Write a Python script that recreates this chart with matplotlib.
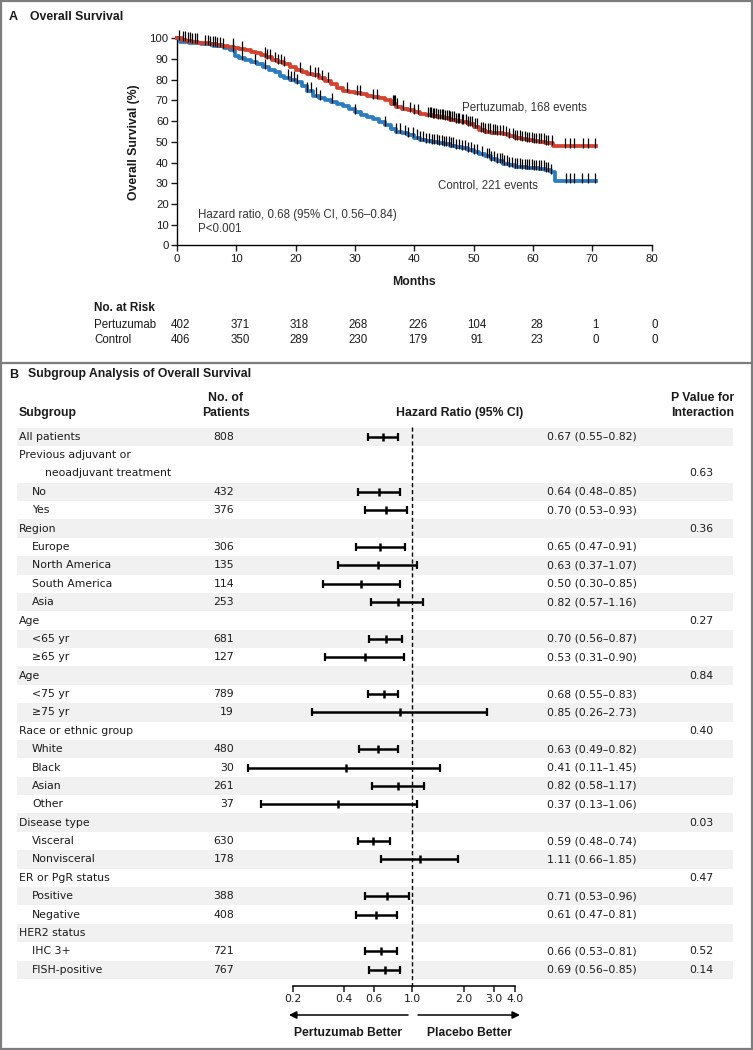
import numpy as np
import matplotlib
matplotlib.use("Agg")
import matplotlib.pyplot as plt
from matplotlib import transforms
from matplotlib.patches import Rectangle
from matplotlib.ticker import NullLocator

# ---------------- Panel A data ----------------
month_ticks = [0, 10, 20, 30, 40, 50, 60, 70, 80]
surv_ticks = [0, 10, 20, 30, 40, 50, 60, 70, 80, 90, 100]

pert_t = [0, 0.8, 1.6, 2.6, 3.6, 4.6, 5.6, 6.6, 7.6, 8.6, 9.6, 10.4, 11.4, 12.4, 13.4, 14.2,
          15.0, 16, 17, 18, 19, 20, 21, 22, 23, 24, 25, 26, 27, 28, 29, 30, 31, 32, 33, 34, 35,
          36, 37, 38, 39, 40, 41, 42, 43, 44, 45, 46, 47, 48, 49, 50, 51, 52, 53, 54, 55, 56,
          57, 58, 59, 60, 61, 62, 63.4, 70.6]
pert_s = [100, 99.4, 98.9, 98.4, 98.0, 97.6, 97.2, 96.8, 96.4, 96.0, 95.5, 94.9, 94.3, 93.6,
          92.8, 92.0, 91.0, 89.6, 88.4, 87.4, 86.2, 84.8, 83.6, 83.0, 82.2, 80.8, 79.6, 78.0,
          76.0, 74.8, 74.2, 73.6, 72.9, 72.2, 71.6, 71.0, 70.0, 68.4, 67.0, 66.0, 65.2, 64.2,
          63.5, 62.9, 62.3, 61.8, 61.3, 60.7, 60.1, 59.4, 58.6, 57.4, 55.6, 54.9, 54.5, 54.1,
          53.6, 52.6, 51.8, 51.3, 50.9, 50.5, 50.1, 49.5, 48.0, 48.0]

ctrl_t = [0, 0.5, 2.0, 4.0, 6.0, 8.0, 9.0, 9.8, 10.5, 11.5, 12.5, 13.5, 14.5, 15.5, 16.5, 17.4,
          18, 19, 20, 21, 22, 23, 24, 25, 26, 27, 28, 29, 30, 31, 32, 33, 34, 35, 36, 37, 38,
          39, 40, 41, 42, 43, 44, 45, 46, 47, 48, 49, 50, 51, 52, 53, 54, 55, 56, 57, 58, 59,
          60, 61, 62, 63, 63.7, 70.6]
ctrl_s = [100, 98.5, 98.0, 97.3, 96.4, 95.4, 94.2, 91.6, 90.4, 89.6, 88.6, 87.4, 86.1, 84.7,
          83.6, 81.8, 81.0, 80.1, 78.9, 77.2, 74.8, 72.3, 71.0, 70.3, 69.5, 68.4, 67.2, 66.0,
          64.4, 63.1, 62.0, 61.0, 59.7, 58.3, 56.2, 54.9, 54.1, 53.3, 52.1, 51.1, 50.4, 49.8,
          49.3, 48.8, 48.2, 47.6, 46.9, 46.0, 45.0, 43.9, 43.0, 41.7, 40.6, 39.5, 38.6, 38.0,
          37.8, 37.5, 37.3, 37.0, 36.4, 35.5, 31.0, 31.0]

pert_cens = [0.4, 1.0, 1.4, 1.8, 2.2, 2.6, 3.0, 3.3, 4.8, 5.2, 5.6, 6.0, 6.4, 6.8, 7.2, 7.7,
             9.5, 11.0, 14.8, 15.2, 15.6, 16.5, 17.0, 17.5, 18.0, 20.7, 22.4, 23.2, 23.8, 24.5,
             25.5, 28.7, 30.3, 30.9, 33.0, 33.7, 36.4, 36.6, 36.8, 37.1, 38.1, 39.3, 40.0, 40.6,
             42.3, 42.6, 42.9, 43.1, 43.4, 43.7, 44.0, 44.3, 44.6, 44.9, 45.2, 45.5, 45.8, 46.1,
             46.4, 46.7, 47.0, 47.3, 47.6, 48.0, 48.3, 48.7, 49.0, 49.4, 49.8, 50.2, 50.6, 51.2,
             51.6, 52.0, 52.4, 52.8, 53.2, 53.6, 54.0, 54.4, 54.9, 55.4, 56.0, 56.6, 57.0, 57.4,
             57.8, 58.2, 58.6, 59.0, 59.4, 59.8, 60.2, 60.6, 61.0, 61.4, 61.8, 62.2, 62.6, 63.3,
             65.5, 66.2, 67.0, 68.5, 69.3, 70.5]
ctrl_cens = [9.5, 11.0, 13.2, 14.8, 18.7, 19.2, 19.7, 20.2, 22.0, 22.6, 23.4, 24.1, 26.1, 30.0,
             35.0, 37.0, 37.6, 38.4, 39.0, 39.8, 40.4, 41.0, 41.5, 42.0, 42.5, 43.0, 43.4, 43.8,
             44.2, 44.6, 45.0, 45.4, 45.8, 46.2, 46.6, 47.0, 47.5, 48.0, 48.5, 49.0, 49.5, 50.0,
             50.5, 51.5, 52.2, 52.6, 53.0, 53.5, 54.0, 54.4, 54.8, 55.2, 55.6, 56.0, 56.5, 57.0,
             57.4, 57.8, 58.2, 58.6, 59.0, 59.4, 59.8, 60.2, 60.6, 61.0, 61.4, 61.8, 62.2, 62.6,
             63.0, 65.6, 66.3, 67.0, 68.2, 69.3, 70.5]

risk_months = [0, 10, 20, 30, 40, 50, 60, 70, 80]
risk_pert = [402, 371, 318, 268, 226, 104, 28, 1, 0]
risk_ctrl = [406, 350, 289, 230, 179, 91, 23, 0, 0]

# ---------------- Panel B data ----------------
sub_labels = ["All patients", "Previous adjuvant or", "neoadjuvant treatment", "No", "Yes",
              "Region", "Europe", "North America", "South America", "Asia",
              "Age", "<65 yr", "\u226565 yr", "Age", "<75 yr", "\u226575 yr",
              "Race or ethnic group", "White", "Black", "Asian", "Other",
              "Disease type", "Visceral", "Nonvisceral", "ER or PgR status", "Positive",
              "Negative", "HER2 status", "IHC 3+", "FISH-positive"]
sub_indent = [0, 0, 2, 1, 1, 0, 1, 1, 1, 1, 0, 1, 1, 0, 1, 1, 0, 1, 1, 1, 1,
              0, 1, 1, 0, 1, 1, 0, 1, 1]
sub_n = ["808", "", "", "432", "376", "", "306", "135", "114", "253", "", "681", "127", "",
         "789", "19", "", "480", "30", "261", "37", "", "630", "178", "", "388", "408", "",
         "721", "767"]
nan = np.nan
sub_hr = [0.67, nan, nan, 0.64, 0.70, nan, 0.65, 0.63, 0.50, 0.82, nan, 0.70, 0.53, nan,
          0.68, 0.85, nan, 0.63, 0.41, 0.82, 0.37, nan, 0.59, 1.11, nan, 0.71, 0.61, nan,
          0.66, 0.69]
sub_lo = [0.55, nan, nan, 0.48, 0.53, nan, 0.47, 0.37, 0.30, 0.57, nan, 0.56, 0.31, nan,
          0.55, 0.26, nan, 0.49, 0.11, 0.58, 0.13, nan, 0.48, 0.66, nan, 0.53, 0.47, nan,
          0.53, 0.56]
sub_hi = [0.82, nan, nan, 0.85, 0.93, nan, 0.91, 1.07, 0.85, 1.16, nan, 0.87, 0.90, nan,
          0.83, 2.73, nan, 0.82, 1.45, 1.17, 1.06, nan, 0.74, 1.85, nan, 0.96, 0.81, nan,
          0.81, 0.85]
sub_p = ["", "", "0.63", "", "", "0.36", "", "", "", "", "0.27", "", "", "0.84", "", "",
         "0.40", "", "", "", "", "0.03", "", "", "0.47", "", "", "", "0.52", "0.14"]
hr_ticks = [0.2, 0.4, 0.6, 1.0, 2.0, 3.0, 4.0]

# ---------------- Figure / layout ----------------
W, H = 753, 1050
fig = plt.figure(figsize=(W / 100, H / 100), dpi=100)
FA = ["Liberation Sans", "DejaVu Sans"]
FB = ["DejaVu Sans"]
TXT = "#1a1a1a"


def px_axes(x0, y0, x1, y1):
    return fig.add_axes([x0 / W, 1 - y1 / H, (x1 - x0) / W, (y1 - y0) / H])


bg = px_axes(0, 0, W, H)
bg.set_xlim(0, W)
bg.set_ylim(H, 0)
bg.axis("off")
bg.add_patch(Rectangle((1, 1), W - 2, H - 2, fill=False, ec="#7d7d7d", lw=1.6))
bg.plot([0, W], [362.5, 362.5], color="#7d7d7d", lw=1.6)

bg.text(9, 17, "A", fontsize=9, fontweight="bold", family=FA, va="center", color=TXT)
bg.text(30, 17, "Overall Survival", fontsize=8.8, fontweight="bold", family=FA, va="center", color=TXT)
bg.text(9, 374.5, "B", fontsize=9, fontweight="bold", family=FA, va="center", color=TXT)
bg.text(28, 374.5, "Subgroup Analysis of Overall Survival", fontsize=8.8, fontweight="bold",
        family=FA, va="center", color=TXT)

# ---------------- Panel A: KM ----------------
km = px_axes(177, 38.4, 651.5, 245.3)
km.set_facecolor("none")
km.set_xlim(0, 80)
km.set_ylim(0, 100)
for s in ("top", "right"):
    km.spines[s].set_visible(False)
for s in ("left", "bottom"):
    km.spines[s].set_linewidth(1.0)
km.set_xticks(month_ticks)
km.set_yticks(surv_ticks)
km.tick_params(direction="out", length=4.5, width=1.0, labelsize=8.2, pad=1.5, colors=TXT)
for lab in km.get_xticklabels() + km.get_yticklabels():
    lab.set_family(FA)

RED = "#d4412f"
BLUE = "#2b7cc0"
km.plot(ctrl_t, ctrl_s, drawstyle="steps-post", color=BLUE, lw=2.7, clip_on=False, zorder=3)
km.plot(pert_t, pert_s, drawstyle="steps-post", color=RED, lw=2.7, clip_on=False, zorder=3)


def step_at(times, vals, t):
    idx = np.searchsorted(np.asarray(times), np.asarray(t), side="right") - 1
    return np.asarray(vals)[idx]


km.plot(pert_cens, step_at(pert_t, pert_s, pert_cens) + 1.6, ls="none", marker="|",
        ms=6.5, mew=0.9, color="black", clip_on=False, zorder=4)
km.plot(ctrl_cens, step_at(ctrl_t, ctrl_s, ctrl_cens) + 1.6, ls="none", marker="|",
        ms=6.5, mew=0.9, color="black", clip_on=False, zorder=4)

km.text(48.1, 66.8, "Pertuzumab, 168 events", fontsize=8.3, family=FA, va="center", color="#333333")
km.text(44.0, 29.1, "Control, 221 events", fontsize=8.3, family=FA, va="center", color="#333333")
km.text(3.5, 14.6, "Hazard ratio, 0.68 (95% CI, 0.56\u20130.84)", fontsize=8.3, family=FA,
        va="center", color="#333333")
km.text(3.5, 7.9, "P<0.001", fontsize=8.3, family=FA, va="center", color="#333333")
km.set_ylabel("Overall Survival (%)", fontsize=8.8, fontweight="bold", family=FA, color=TXT,
              labelpad=7)
km.set_xlabel("Months", fontsize=8.8, fontweight="bold", family=FA, color=TXT, labelpad=9)

trA = transforms.blended_transform_factory(km.transData, bg.transData)
bg.text(94, 308, "No. at Risk", fontsize=8.5, fontweight="bold", family=FA, va="center", color=TXT)
bg.text(94, 324.5, "Pertuzumab", fontsize=8.3, family=FA, va="center", color=TXT)
bg.text(94, 340, "Control", fontsize=8.3, family=FA, va="center", color=TXT)
for m, a, b in zip(risk_months, risk_pert, risk_ctrl):
    bg.text(m + 0.6, 324.5, str(a), fontsize=8.3, family=FA, va="center", ha="center",
            color=TXT, transform=trA)
    bg.text(m + 0.6, 340, str(b), fontsize=8.3, family=FA, va="center", ha="center",
            color=TXT, transform=trA)

# ---------------- Panel B: forest ----------------
PX_ONE, PX_DEC = 412.3, 171.0      # pixel of HR=1 and pixels per decade
ROW0, ROWH = 436.7, 18.38          # pixel of first row and row pitch
FX0, FX1, FY0, FY1 = 230, 545, 420, 1045
fx = px_axes(FX0, FY0, FX1, FY1)
fx.set_facecolor("none")
fx.set_xscale("log")
fx.set_xlim(10 ** ((FX0 - PX_ONE) / PX_DEC), 10 ** ((FX1 - PX_ONE) / PX_DEC))
fx.set_ylim((FY1 - ROW0) / ROWH, (FY0 - ROW0) / ROWH)


def krow(py):
    return (py - ROW0) / ROWH


for s in ("top", "right", "left"):
    fx.spines[s].set_visible(False)
axis_k = krow(985.7)
fx.spines["bottom"].set_position(("data", axis_k))
fx.spines["bottom"].set_bounds(0.2, 4.0)
fx.spines["bottom"].set_linewidth(1.1)
fx.set_xticks(hr_ticks)
fx.set_xticklabels(["%.1f" % v for v in hr_ticks])
fx.xaxis.set_minor_locator(NullLocator())
fx.set_yticks([])
fx.tick_params(axis="x", direction="out", length=4.5, width=1.1, pad=1.5, labelsize=7.8,
               colors=TXT)
for lab in fx.get_xticklabels():
    lab.set_family(FB)

rows = np.arange(len(sub_labels))
hr = np.array(sub_hr)
lo = np.array(sub_lo)
hi = np.array(sub_hi)
ok = ~np.isnan(hr)
fx.errorbar(hr[ok], rows[ok], xerr=[hr[ok] - lo[ok], hi[ok] - hr[ok]], fmt="none",
            ecolor="black", elinewidth=1.8, capsize=2.8, capthick=1.6, zorder=3)
fx.plot(hr[ok], rows[ok], ls="none", marker="|", ms=5.5, mew=1.8, color="black", zorder=4)
fx.vlines(1.0, krow(427), axis_k, colors="black", linestyles=(0, (3, 2)), lw=1.0, zorder=2)

ka = krow(1015)
fx.annotate("", xy=(0.19, ka), xytext=(0.944, ka),
            arrowprops=dict(arrowstyle="-|>", color="black", lw=1.1, mutation_scale=11,
                            shrinkA=0, shrinkB=0))
fx.annotate("", xy=(4.26, ka), xytext=(1.08, ka),
            arrowprops=dict(arrowstyle="-|>", color="black", lw=1.1, mutation_scale=11,
                            shrinkA=0, shrinkB=0))
kl = krow(1033)
fx.text(0.42, kl, "Pertuzumab Better", fontsize=8.7, fontweight="bold", family=FA,
        ha="center", va="center", color=TXT)
fx.text(2.17, kl, "Placebo Better", fontsize=8.7, fontweight="bold", family=FA,
        ha="center", va="center", color=TXT)

# headers
bg.text(19, 413, "Subgroup", fontsize=8.8, fontweight="bold", family=FA, va="center", color=TXT)
bg.text(226, 398, "No. of", fontsize=8.8, fontweight="bold", family=FA, va="center", ha="center", color=TXT)
bg.text(226, 413, "Patients", fontsize=8.8, fontweight="bold", family=FA, va="center", ha="center", color=TXT)
bg.text(460, 413, "Hazard Ratio (95% CI)", fontsize=8.8, fontweight="bold", family=FA,
        va="center", ha="center", color=TXT)
bg.text(703, 398, "P Value for", fontsize=8.8, fontweight="bold", family=FA, va="center", ha="center", color=TXT)
bg.text(703, 413, "Interaction", fontsize=8.8, fontweight="bold", family=FA, va="center", ha="center", color=TXT)

trB = transforms.blended_transform_factory(bg.transData, fx.transData)
item = -1
indent_px = [19, 32, 45]
for k, lab in enumerate(sub_labels):
    if sub_indent[k] != 2:
        item += 1
    if item % 2 == 0:
        bg.add_patch(Rectangle((17, k - 0.5), 716, 1.0, transform=trB, fc="#f1f1f1",
                               ec="none", zorder=0))
    bg.text(indent_px[sub_indent[k]], k, lab, fontsize=7.8, family=FB, va="center",
            color=TXT, transform=trB, zorder=2)
    if sub_n[k]:
        bg.text(234, k, sub_n[k], fontsize=7.8, family=FB, va="center", ha="right",
                color=TXT, transform=trB, zorder=2)
    if not np.isnan(sub_hr[k]):
        bg.text(547, k, "%.2f (%.2f\u2013%.2f)" % (sub_hr[k], sub_lo[k], sub_hi[k]),
                fontsize=7.8, family=FB, va="center", color=TXT, transform=trB, zorder=2)
    if sub_p[k]:
        bg.text(701, k, sub_p[k], fontsize=7.8, family=FB, va="center", ha="center",
                color=TXT, transform=trB, zorder=2)

fig.savefig("out.png", dpi=100, facecolor="white")
